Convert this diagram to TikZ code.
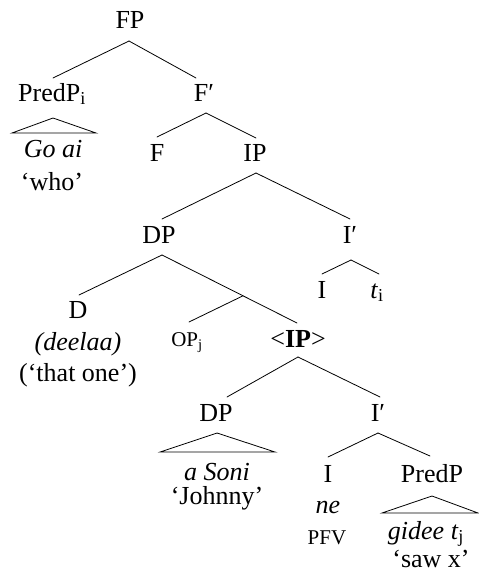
\documentclass[tikz,border=0pt]{standalone}
\usepackage{fontspec}
\setmainfont{Liberation Serif}
\begin{document}
\begin{tikzpicture}[x=1pt,y=-1pt,
  lab/.style={anchor=base,inner sep=0pt,font=\fontsize{26}{30}\selectfont},
  smc/.style={anchor=base,inner sep=0pt,font=\fontsize{21}{24}\selectfont},
  br/.style={line width=0.8pt,line cap=round}]
\useasboundingbox (0,0) rectangle (479,573);
% nodes
\node[lab] (FP) at (130,28) {FP};
\node[lab] (PredPi) at (52,101) {PredP\textsubscript{i}};
\node[lab] (Fbar) at (204,101) {F′};
\node[lab] (GoAi) at (53,157) {\textit{Go ai}};
\node[lab] (who) at (52,190) {‘who’};
\node[lab] (F) at (157,161) {F};
\node[lab] (IP) at (255,161) {IP};
\node[lab] (DPa) at (159,243) {DP};
\node[lab] (Ibara) at (350,243) {I′};
\node[lab] (Ia) at (322,298) {I};
\node[lab] (ti) at (377,298) {\textit{t}\textsubscript{i}};
\node[lab] (D) at (78,318) {D};
\node[lab] (deelaa) at (78,350) {\textit{(deelaa)}};
\node[lab] (thatone) at (78,381) {(‘that one’)};
\node[smc] (OPj) at (187,346) {OP\textsubscript{j}};
\node[lab] (IPb) at (298,347) {<\textbf{IP}>};
\node[lab] (DPb) at (216,421) {DP};
\node[lab] (Ibarb) at (378,421) {I′};
\node[lab] (aSoni) at (217,480) {\textit{a Soni}};
\node[lab] (Johnny) at (217,504) {‘Johnny’};
\node[lab] (Ib) at (328,482) {I};
\node[lab] (PredPb) at (432,482) {PredP};
\node[lab] (ne) at (328,513) {\textit{ne}};
\node[smc] (PFV) at (327,544) {PFV};
\node[lab] (gidee) at (426,539) {\textit{gidee t}\textsubscript{j}};
\node[lab] (saw) at (431,567) {‘saw x’};
% branches
\draw[br] ([shift={(-1,13)}]FP.base) -- ([shift={(1,-23)}]PredPi.base);
\draw[br] ([shift={(-1,13)}]FP.base) -- ([shift={(-8,-23)}]Fbar.base);
\draw[br] ([shift={(1,17)}]PredPi.base) -- ([shift={(-41,-24)}]GoAi.base) -- ([shift={(43,-24)}]GoAi.base) -- cycle;
\draw[br] ([shift={(2,12)}]Fbar.base) -- ([shift={(0,-24)}]F.base);
\draw[br] ([shift={(2,12)}]Fbar.base) -- ([shift={(1,-23)}]IP.base);
\draw[br] ([shift={(1,12)}]IP.base) -- ([shift={(3,-24)}]DPa.base);
\draw[br] ([shift={(1,12)}]IP.base) -- ([shift={(0,-24)}]Ibara.base);
\draw[br] ([shift={(3,12)}]DPa.base) -- ([shift={(1,-23)}]D.base);
\draw[br] ([shift={(3,12)}]DPa.base) -- coordinate[pos=0.6] (jn) ([shift={(-1,-24)}]IPb.base);
\draw[br] (jn) -- ([shift={(2,-24)}]OPj.base);
\draw[br] ([shift={(1,17)}]Ibara.base) -- ([shift={(0,-24)}]Ia.base);
\draw[br] ([shift={(1,17)}]Ibara.base) -- ([shift={(2,-24)}]ti.base);
\draw[br] ([shift={(0,10)}]IPb.base) -- ([shift={(11,-24)}]DPb.base);
\draw[br] ([shift={(0,10)}]IPb.base) -- ([shift={(2,-24)}]Ibarb.base);
\draw[br] ([shift={(1,12)}]DPb.base) -- ([shift={(-57,-28)}]aSoni.base) -- ([shift={(58,-28)}]aSoni.base) -- cycle;
\draw[br] ([shift={(0,12)}]Ibarb.base) -- ([shift={(0,-25)}]Ib.base);
\draw[br] ([shift={(0,12)}]Ibarb.base) -- ([shift={(-2,-26)}]PredPb.base);
\draw[br] ([shift={(0,14)}]PredPb.base) -- ([shift={(-44,-26)}]gidee.base) -- ([shift={(52,-26)}]gidee.base) -- cycle;
\end{tikzpicture}
\end{document}
